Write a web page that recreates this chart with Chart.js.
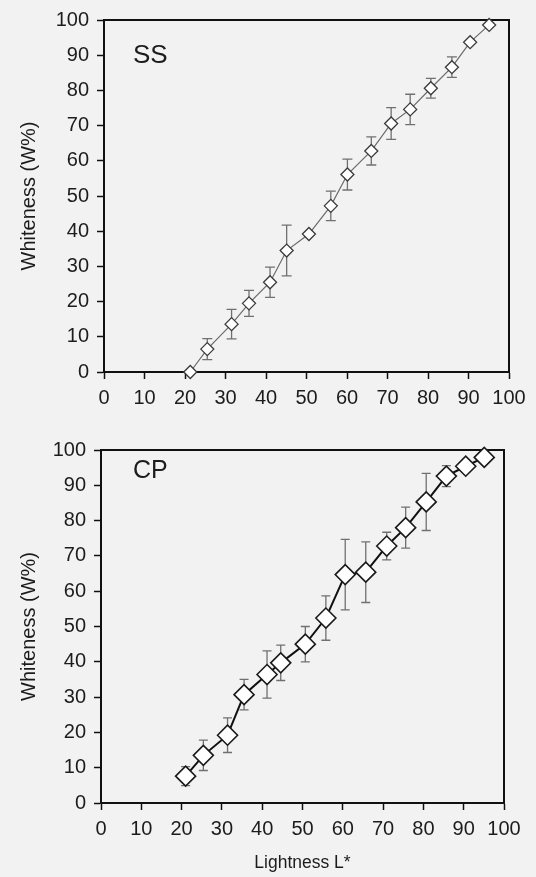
<!DOCTYPE html>
<html>
<head>
<meta charset="utf-8">
<script src="https://cdn.jsdelivr.net/npm/chart.js@4/dist/chart.umd.min.js"></script>
<style>
  body { margin: 0; background: #f2f2f2; }
  canvas { display: block; }
</style>
</head>
<body>
<canvas id="ss-chart" width="536" height="430"></canvas>
<canvas id="cp-chart" width="536" height="447"></canvas>
<script>
// tick labels (both axes, both panels)
const tickValues = [0, 10, 20, 30, 40, 50, 60, 70, 80, 90, 100];

// SS panel
const ssLightness = [21.3, 25.5, 31.5, 35.8, 41.0, 45.1, 50.6, 56.0, 60.1, 66.0, 70.9, 75.6, 80.7, 85.9, 90.4, 95.1];
const ssWhiteness = [0, 6.5, 13.6, 19.5, 25.5, 34.5, 39.2, 47.2, 56.1, 62.8, 70.6, 74.6, 80.6, 86.6, 93.7, 98.6];
const ssError     = [0, 3.0, 4.2, 3.7, 4.3, 7.2, 0, 4.2, 4.4, 4.0, 4.5, 4.3, 2.8, 2.9, 0, 0];

// CP panel
const cpLightness = [21.0, 25.4, 31.4, 35.5, 41.2, 44.6, 50.7, 55.8, 60.6, 65.7, 70.9, 75.6, 80.7, 85.7, 90.5, 95.1];
const cpWhiteness = [7.6, 13.5, 19.2, 30.7, 36.4, 39.7, 45.0, 52.4, 64.7, 65.4, 72.8, 78.0, 85.3, 92.6, 95.4, 97.9];
const cpError     = [2.7, 4.3, 4.9, 4.3, 6.7, 5.0, 5.0, 6.3, 10.0, 8.6, 3.9, 5.8, 8.1, 3.0, 1.5, 0];

const FONT = "'Liberation Sans', Arial, sans-serif";
const INK = '#1c1c1c';

// top + right border of the plot box
const framePlugin = {
    id: 'frame',
    beforeDatasetsDraw(chart) {
        const { ctx, chartArea: a } = chart;
        ctx.save();
        ctx.strokeStyle = '#111';
        ctx.lineWidth = 2;
        ctx.beginPath();
        ctx.moveTo(a.left, a.top);
        ctx.lineTo(a.right, a.top);
        ctx.lineTo(a.right, a.bottom);
        ctx.stroke();
        ctx.restore();
    }
};

// vertical error bars with caps, drawn behind the markers
const errorBarPlugin = {
    id: 'errorBars',
    beforeDatasetsDraw(chart, args, opts) {
        const { ctx, scales } = chart;
        chart.data.datasets.forEach(ds => {
            if (!ds.errors) return;
            ctx.save();
            ctx.strokeStyle = opts.color;
            ctx.lineWidth = opts.width;
            ds.data.forEach((p, i) => {
                const e = ds.errors[i];
                if (!e) return;
                const x = scales.x.getPixelForValue(p.x);
                const yHi = scales.y.getPixelForValue(p.y + e);
                const yLo = scales.y.getPixelForValue(p.y - e);
                const c = opts.cap / 2;
                ctx.beginPath();
                ctx.moveTo(x, yHi); ctx.lineTo(x, yLo);
                ctx.moveTo(x - c, yHi); ctx.lineTo(x + c, yHi);
                ctx.moveTo(x - c, yLo); ctx.lineTo(x + c, yLo);
                ctx.stroke();
            });
            ctx.restore();
        });
    }
};

// panel name in the upper left corner
const panelLabelPlugin = {
    id: 'panelLabel',
    afterDraw(chart, args, opts) {
        const { ctx, chartArea: a } = chart;
        ctx.save();
        ctx.fillStyle = INK;
        ctx.font = opts.size + 'px ' + FONT;
        ctx.textBaseline = 'alphabetic';
        ctx.fillText(opts.text, a.left + opts.dx, a.top + opts.dy);
        ctx.restore();
    }
};

function makePanel(id, xs, ys, errs, cfg) {
    const points = xs.map((x, i) => ({ x: x, y: ys[i] }));
    const ctx = document.getElementById(id).getContext('2d');
    return new Chart(ctx, {
        type: 'scatter',
        data: {
            datasets: [{
                data: points,
                errors: errs,
                showLine: true,
                borderColor: cfg.lineColor,
                borderWidth: cfg.lineWidth,
                pointStyle: 'rectRot',
                pointRadius: cfg.radius,
                pointBorderWidth: cfg.markerWidth,
                pointBorderColor: cfg.markerColor,
                pointBackgroundColor: '#ffffff',
                clip: false
            }]
        },
        options: {
            responsive: false,
            animation: false,
            layout: { padding: { top: cfg.top, right: cfg.right, left: 0, bottom: 0 } },
            plugins: {
                legend: { display: false },
                tooltip: { enabled: false },
                errorBars: { color: '#707070', width: 1.3, cap: cfg.cap },
                panelLabel: { text: cfg.label, size: cfg.labelSize, dx: cfg.labelDx, dy: cfg.labelDy }
            },
            scales: {
                x: {
                    type: 'linear',
                    min: 0,
                    max: 100,
                    afterBuildTicks: s => { s.ticks = tickValues.map(v => ({ value: v })); },
                    afterFit: s => { s.height = cfg.xHeight; },
                    ticks: { color: INK, font: { family: FONT, size: 20 }, padding: 7, maxRotation: 0 },
                    grid: { drawOnChartArea: false, drawTicks: true, tickLength: 7, tickColor: '#111', tickWidth: 1.5 },
                    border: { color: '#111', width: 2 },
                    title: {
                        display: !!cfg.xTitle,
                        text: cfg.xTitle || '',
                        color: INK,
                        font: { family: FONT, size: 17.5 },
                        padding: { top: 0, bottom: 3 }
                    }
                },
                y: {
                    type: 'linear',
                    min: 0,
                    max: 100,
                    afterBuildTicks: s => { s.ticks = tickValues.map(v => ({ value: v })); },
                    afterFit: s => { s.width = cfg.yWidth; },
                    ticks: { color: INK, font: { family: FONT, size: 20 }, padding: 8 },
                    grid: { drawOnChartArea: false, drawTicks: true, tickLength: 7, tickColor: '#111', tickWidth: 1.5 },
                    border: { color: '#111', width: 2 },
                    title: {
                        display: true,
                        text: 'Whiteness (W%)',
                        color: INK,
                        font: { family: FONT, size: 20 },
                        padding: { top: 17, bottom: 0 }
                    }
                }
            }
        },
        plugins: [framePlugin, errorBarPlugin, panelLabelPlugin]
    });
}

makePanel('ss-chart', ssLightness, ssWhiteness, ssError, {
    lineColor: '#6a6a6a', lineWidth: 1.2, radius: 6.5, markerWidth: 1.3, markerColor: '#3a3a3a', cap: 10,
    top: 19, right: 27, yWidth: 104, xHeight: 58,
    label: 'SS', labelSize: 26, labelDx: 29, labelDy: 43
});

makePanel('cp-chart', cpLightness, cpWhiteness, cpError, {
    lineColor: '#111111', lineWidth: 2, radius: 10, markerWidth: 1.6, markerColor: '#1a1a1a', cap: 9,
    top: 20, right: 32, yWidth: 101, xHeight: 74, xTitle: 'Lightness L*',
    label: 'CP', labelSize: 25, labelDx: 32, labelDy: 28
});
</script>
</body>
</html>
